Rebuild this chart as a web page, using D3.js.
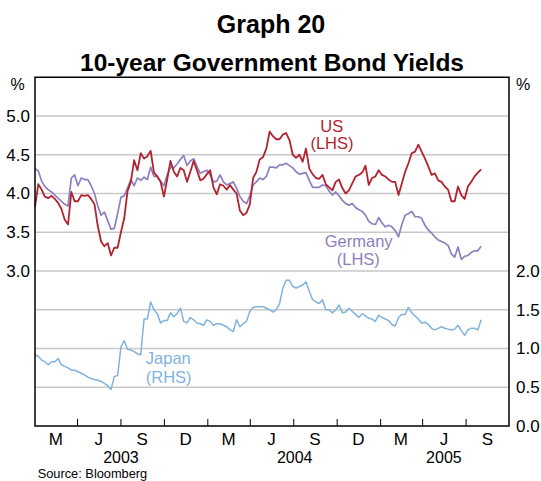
<!DOCTYPE html>
<html>
<head>
<meta charset="utf-8">
<script src="https://cdn.jsdelivr.net/npm/d3@7/dist/d3.min.js"></script>
<style>
  html, body { margin: 0; padding: 0; background: #fff; }
  svg { display: block; }
  text { font-family: Arial, "Liberation Sans", Helvetica, sans-serif; }
</style>
</head>
<body>
<svg id="chart" width="541" height="481"></svg>
<script>
// ---- Data (weekly observations starting 1 Feb 2003) ----
const startDate = "2003-02-01";
const us = [3.83,4.12,4.05,3.96,3.94,3.97,3.93,3.88,3.80,3.66,3.60,4.02,3.90,3.90,3.98,3.97,3.98,3.93,3.86,3.58,
  3.38,3.32,3.36,3.20,3.30,3.30,3.50,3.68,4.03,4.15,4.43,4.30,4.52,4.45,4.48,4.55,4.27,4.22,4.15,3.96,
  4.18,4.42,4.28,4.22,4.33,4.30,4.15,4.28,4.42,4.30,4.17,4.19,4.25,4.30,4.08,3.99,4.12,4.10,4.05,4.11,
  4.05,4.00,3.78,3.72,3.75,3.86,4.20,4.28,4.44,4.47,4.58,4.80,4.74,4.70,4.70,4.76,4.78,4.69,4.50,4.46,
  4.50,4.41,4.58,4.32,4.25,4.20,4.19,4.24,4.12,4.08,4.04,4.15,4.18,4.07,4.00,4.04,4.13,4.22,4.24,4.27,
  4.36,4.11,4.20,4.22,4.30,4.24,4.22,4.18,4.15,4.15,3.98,4.13,4.28,4.39,4.52,4.54,4.63,4.54,4.45,4.35,
  4.24,4.26,4.17,4.15,4.09,4.05,3.90,3.90,4.09,3.98,3.93,4.09,4.15,4.22,4.27,4.31];
const germany = [4.32,4.29,4.16,4.09,4.05,4.02,3.98,3.94,3.90,3.86,3.84,4.20,4.24,4.10,4.20,4.18,4.18,4.10,4.00,3.84,
  3.72,3.76,3.65,3.54,3.55,3.74,3.95,3.97,4.07,4.18,4.10,4.20,4.17,4.21,4.18,4.34,4.22,4.22,4.16,4.10,
  4.24,4.34,4.33,4.38,4.44,4.49,4.36,4.42,4.45,4.35,4.26,4.28,4.30,4.24,4.15,4.16,4.24,4.15,4.11,4.13,
  4.15,4.07,3.96,3.90,3.87,3.97,4.11,4.15,4.20,4.18,4.22,4.34,4.34,4.33,4.37,4.37,4.39,4.36,4.33,4.28,
  4.25,4.26,4.27,4.17,4.08,4.08,4.08,4.11,4.10,4.03,3.98,4.02,3.97,3.91,3.87,3.85,3.87,3.82,3.79,3.77,
  3.72,3.64,3.61,3.60,3.69,3.62,3.57,3.59,3.57,3.52,3.44,3.60,3.72,3.74,3.77,3.70,3.70,3.68,3.59,3.53,
  3.49,3.44,3.40,3.38,3.36,3.33,3.22,3.18,3.31,3.15,3.19,3.20,3.24,3.26,3.26,3.32];
const japan = [0.92,0.90,0.85,0.83,0.79,0.83,0.83,0.87,0.79,0.77,0.75,0.72,0.72,0.70,0.68,0.66,0.63,0.615,0.60,0.59,
  0.575,0.55,0.52,0.47,0.64,0.65,1.02,1.10,0.99,0.98,0.96,0.93,0.92,1.38,1.38,1.60,1.50,1.45,1.33,1.36,
  1.36,1.46,1.41,1.45,1.52,1.35,1.33,1.40,1.37,1.33,1.32,1.30,1.37,1.35,1.30,1.32,1.32,1.30,1.28,1.24,
  1.22,1.37,1.28,1.32,1.35,1.48,1.53,1.54,1.54,1.54,1.52,1.50,1.47,1.50,1.58,1.78,1.88,1.88,1.80,1.78,
  1.80,1.82,1.86,1.74,1.63,1.60,1.58,1.63,1.50,1.50,1.46,1.50,1.56,1.46,1.47,1.52,1.48,1.44,1.40,1.45,
  1.42,1.39,1.38,1.35,1.43,1.40,1.38,1.36,1.31,1.29,1.40,1.44,1.44,1.53,1.46,1.42,1.38,1.33,1.34,1.31,
  1.26,1.24,1.26,1.28,1.26,1.25,1.24,1.25,1.30,1.23,1.17,1.24,1.26,1.26,1.24,1.37];

const leftTicks = [3.0, 3.5, 4.0, 4.5, 5.0];
const rightTicks = [0.0, 0.5, 1.0, 1.5, 2.0];
const gridValues = [1.5, 2.0, 2.5, 3.0, 3.5, 4.0, 4.5, 5.0];
const quarterTicks = ["2003-05-01","2003-08-01","2003-11-01","2004-02-01","2004-05-01","2004-08-01",
  "2004-11-01","2005-02-01","2005-05-01","2005-08-01"];
const monthLabels = [["2003-03-16","M"],["2003-06-15","J"],["2003-09-15","S"],["2003-12-16","D"],
  ["2004-03-16","M"],["2004-06-15","J"],["2004-09-15","S"],["2004-12-16","D"],
  ["2005-03-16","M"],["2005-06-15","J"],["2005-09-15","S"]];
const yearLabels = [["2003-08-01","2003"],["2004-08-03","2004"],["2005-06-15","2005"]];

// ---- Layout ----
const plot = {left: 35, right: 509, top: 77.25, bottom: 426};
const colors = {us: "#b3222f", germany: "#8e7fc1", japan: "#7fb2df"};
const FONT = "Arial, 'Liberation Sans', sans-serif";
const parse = d3.utcParse("%Y-%m-%d");

const svg = d3.select("#chart");

const x = d3.scaleUtc()
  .domain([parse("2003-02-01"), parse("2005-11-01")])
  .range([plot.left, plot.right]);
const yL = d3.scaleLinear().domain([1.0, 5.5]).range([plot.bottom, plot.top]);
const yR = d3.scaleLinear().domain([0.0, 4.5]).range([plot.bottom, plot.top]);

const t0 = parse(startDate);
const dateAt = i => d3.utcDay.offset(t0, 7 * i);

// Gridlines
svg.append("g").selectAll("line").data(gridValues).join("line")
  .attr("x1", plot.left).attr("x2", plot.right)
  .attr("y1", d => yL(d)).attr("y2", d => yL(d))
  .attr("stroke", "#c9c9c9").attr("stroke-width", 1.4);

// Lines
function drawLine(values, yScale, color, width) {
  const line = d3.line().x((d, i) => x(dateAt(i))).y(d => yScale(d));
  svg.append("path").datum(values)
    .attr("d", line).attr("fill", "none")
    .attr("stroke", color).attr("stroke-width", width)
    .attr("stroke-linejoin", "round");
}
drawLine(japan, yR, colors.japan, 1.5);
drawLine(germany, yL, colors.germany, 1.7);
drawLine(us, yL, colors.us, 1.8);

// Frame
svg.append("rect")
  .attr("x", plot.left).attr("y", plot.top)
  .attr("width", plot.right - plot.left).attr("height", plot.bottom - plot.top)
  .attr("fill", "none").attr("stroke", "#000").attr("stroke-width", 1.5);

// Bottom quarter ticks (inward)
const tickAxis = d3.axisBottom(x)
  .tickValues(quarterTicks.map(parse))
  .tickSizeInner(-7).tickSizeOuter(0).tickFormat("");
const gT = svg.append("g").attr("transform", `translate(0,${plot.bottom})`).call(tickAxis);
gT.select(".domain").remove();
gT.selectAll(".tick line").attr("stroke", "#000").attr("stroke-width", 1);

// Month labels
const monthAxis = d3.axisBottom(x)
  .tickValues(monthLabels.map(d => parse(d[0])))
  .tickSize(0).tickPadding(0)
  .tickFormat((d, i) => monthLabels[i][1]);
const gM = svg.append("g").attr("transform", `translate(0,${plot.bottom})`).call(monthAxis);
gM.select(".domain").remove();
gM.selectAll("text").attr("dy", null).attr("y", 19.0)
  .attr("font-size", 17).attr("font-family", FONT).attr("fill", "#000");

// Year labels
const yearAxis = d3.axisBottom(x)
  .tickValues(yearLabels.map(d => parse(d[0])))
  .tickSize(0).tickPadding(0)
  .tickFormat((d, i) => yearLabels[i][1]);
const gY = svg.append("g").attr("transform", `translate(0,${plot.bottom})`).call(yearAxis);
gY.select(".domain").remove();
gY.selectAll("text").attr("dy", null).attr("y", 37.3)
  .attr("font-size", 16).attr("font-family", FONT).attr("fill", "#000");

// Left axis labels
const leftAxis = d3.axisLeft(yL).tickValues(leftTicks).tickSize(0).tickPadding(5)
  .tickFormat(d3.format(".1f"));
const gL = svg.append("g").attr("transform", `translate(${plot.left},0)`).call(leftAxis);
gL.select(".domain").remove();
gL.selectAll("text").attr("font-size", 17).attr("font-family", FONT).attr("fill", "#000");

// Right axis labels
const rightAxis = d3.axisRight(yR).tickValues(rightTicks).tickSize(0).tickPadding(7)
  .tickFormat(d3.format(".1f"));
const gR = svg.append("g").attr("transform", `translate(${plot.right},0)`).call(rightAxis);
gR.select(".domain").remove();
gR.selectAll("text").attr("font-size", 17).attr("font-family", FONT).attr("fill", "#000");

// Units
svg.append("text").attr("x", 17.5).attr("y", 90).attr("text-anchor", "middle")
  .attr("font-size", 16).text("%");
svg.append("text").attr("x", 523).attr("y", 90).attr("text-anchor", "middle")
  .attr("font-size", 16).text("%");

// Titles
svg.append("text").attr("x", 271).attr("y", 33.3).attr("text-anchor", "middle")
  .attr("font-size", 25).attr("font-weight", "bold").text("Graph 20");
svg.append("text").attr("x", 272).attr("y", 70.7).attr("text-anchor", "middle")
  .attr("font-size", 24.5).attr("font-weight", "bold").text("10-year Government Bond Yields");

// Series labels
const labels = [
  {t: "US", x: 331.7, y: 131.7, c: colors.us},
  {t: "(LHS)", x: 332, y: 148.5, c: colors.us},
  {t: "Germany", x: 358.7, y: 246.5, c: colors.germany},
  {t: "(LHS)", x: 358.3, y: 265, c: colors.germany},
  {t: "Japan", x: 168.3, y: 364, c: colors.japan},
  {t: "(RHS)", x: 168.7, y: 383.3, c: colors.japan}
];
svg.append("g").selectAll("text").data(labels).join("text")
  .attr("x", d => d.x).attr("y", d => d.y).attr("text-anchor", "middle")
  .attr("font-size", 16.5).attr("fill", d => d.c).text(d => d.t);

// Source
svg.append("text").attr("x", 37.7).attr("y", 478.2).attr("font-size", 12.8).text("Source: Bloomberg");
</script>
</body>
</html>
